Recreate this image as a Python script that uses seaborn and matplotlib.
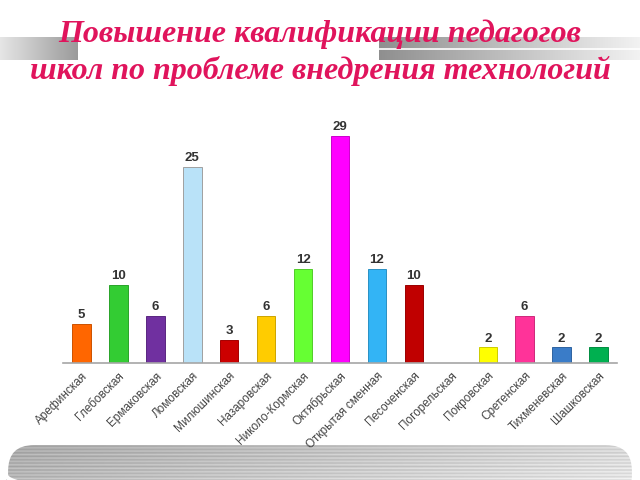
import numpy as np
import matplotlib
matplotlib.use("Agg")
import matplotlib.pyplot as plt
from matplotlib.patches import FancyBboxPatch
import matplotlib.colors as mcolors
import seaborn as sns
import pandas as pd

categories = ["Арефинская", "Глебовская", "Ермаковская", "Ломовская", "Милюшинская",
              "Назаровская", "Николо-Кормская", "Октябрьская", "Открытая сменная",
              "Песоченская", "Погорельская", "Покровская", "Сретенская",
              "Тихменевская", "Шашковская"]
values = [5, 10, 6, 25, 3, 6, 12, 29, 12, 10, 0, 2, 6, 2, 2]
colors = ["#FF6600", "#33CC33", "#7030A0", "#B9E2F8", "#CC0000", "#FFCC00", "#66FF33",
          "#FF00FF", "#33B4F5", "#C00000", "#FFFFFF", "#FFFF00", "#FF3399", "#3A7CC8", "#00B050"]
title_lines = ["Повышение квалификации педагогов", "школ по проблеме внедрения технологий"]

sns.set_theme(style="white")
plt.rcParams['font.family'] = ['Liberation Sans', 'DejaVu Sans']

W, H = 640, 480
fig = plt.figure(figsize=(6.4, 4.8), dpi=100)
fig.patch.set_facecolor("white")

# background decoration axes
bg = fig.add_axes([0, 0, 1, 1], zorder=0)
bg.set_xlim(0, W)
bg.set_ylim(H, 0)
bg.axis("off")
grad = np.linspace(0, 1, 256)[None, :]
cm_l = mcolors.LinearSegmentedColormap.from_list("l", ["#e6e6e6", "#9a9a9a"])
cm_r = mcolors.LinearSegmentedColormap.from_list("r", ["#8f8f8f", "#f2f2f2"])
bg.imshow(grad, cmap=cm_l, extent=[0, 78, 60, 37], aspect="auto", zorder=1)
bg.imshow(grad, cmap=cm_r, extent=[379, 640, 60, 37], aspect="auto", zorder=1)
bg.plot([379, 640], [48.5, 48.5], color="white", lw=1.2, zorder=2)
bg.plot([377.5, 377.5], [37, 60], color="white", lw=1.2, zorder=2)
# bottom band
band = FancyBboxPatch((6, 443), 628, 60, boxstyle="round,pad=0,rounding_size=28",
                      facecolor="none", edgecolor="white", lw=3, zorder=3)
bg.add_patch(band)
xg = np.linspace(0, 1, 200)[None, :]
rows = np.arange(40)[:, None]
img = 0.66 + 0.18 * xg + 0.06 * np.sin(rows * 1.7) + 0.06 * (rows / 40.0)
im = bg.imshow(np.clip(img, 0, 1), cmap="gray", vmin=0, vmax=1, extent=[6, 634, 480, 443],
               aspect="auto", zorder=2)
clip = FancyBboxPatch((6, 443), 628, 60, boxstyle="round,pad=0,rounding_size=28",
                      transform=bg.transData, facecolor="none", edgecolor="none")
bg.add_patch(clip)
im.set_clip_path(clip)

# title
for i, line in enumerate(title_lines):
    fig.text(0.5, 1 - (34 + 37 * i) / H, line, ha="center", va="center",
             family=["Liberation Serif", "DejaVu Serif"], style="italic", weight="bold",
             fontsize=23, color="#E0145C", zorder=5)

# chart
ax = fig.add_axes([63 / W, 1 - 363 / H, (617 - 63) / W, (363 - 128) / H], zorder=4)
ax.patch.set_alpha(0)
df = pd.DataFrame({"cat": categories, "val": values})
sns.barplot(data=df, x="cat", y="val", hue="cat", palette=colors, legend=False,
            width=0.5, ax=ax, saturation=1)
for p, c, v in zip(ax.patches, colors, values):
    rgb = np.array(mcolors.to_rgb(c)) * 0.8
    p.set_edgecolor(rgb if c != "#B9E2F8" else "#A0A0A0")
    p.set_linewidth(0.7)
    if v == 0:
        p.set_visible(False)
for i, v in enumerate(values):
    if v > 0:
        ax.text(i, v + 0.35, str(v), ha="center", va="bottom", fontsize=9.5,
                weight="bold", color="#333333")
ax.set_ylim(0, 30)
ax.set_xlim(-0.5, len(categories) - 0.5)
ax.set_xlabel("")
ax.set_ylabel("")
ax.set_yticks([])
for s in ["top", "right", "left"]:
    ax.spines[s].set_visible(False)
ax.spines["bottom"].set_color("#A6A6A6")
ax.spines["bottom"].set_linewidth(1.2)
ax.tick_params(axis="x", length=0, pad=5)
ax.set_xticks(range(len(categories)))
ax.set_xticklabels(categories, rotation=45, ha="right", rotation_mode="anchor",
                   fontsize=8.5, color="#444444")

fig.savefig("out.png", dpi=100)
